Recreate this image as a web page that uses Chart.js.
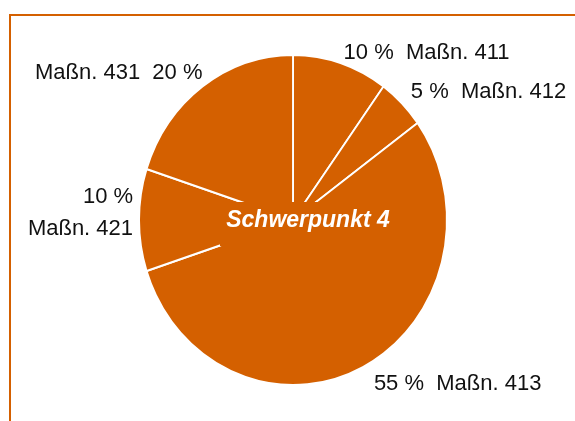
<!DOCTYPE html>
<html>
<head>
<meta charset="utf-8">
<script src="https://cdn.jsdelivr.net/npm/chart.js@4/dist/chart.umd.min.js"></script>
<style>
  html, body { margin: 0; padding: 0; background: #fff; }
  #wrap { position: relative; width: 575px; height: 421px; }
  #frame { position: absolute; left: 9px; top: 14px; right: 0; bottom: 0;
           border-top: 2px solid #d46000; border-left: 2px solid #d46000; }
  canvas { position: absolute; left: 0; top: 0; }
</style>
</head>
<body>
<div id="wrap">
  <div id="frame"></div>
  <canvas id="myChart" width="575" height="421"></canvas>
</div>
<script>
// slices, clockwise from 12 o'clock
const measures = ['Maßn. 411', 'Maßn. 412', 'Maßn. 413', 'Maßn. 421', 'Maßn. 431'];
const shares = [10, 5, 55, 10, 20];
const centerTitle = 'Schwerpunkt 4';

const orange = '#d46000';
const squeezeX = 0.933; // the original pie is a slightly narrow ellipse

// how each outside label sits against the middle of its slice edge
const labelStyle = [
  { align: 'left',  dx: 3,  dy: -4,  lines: (p, m) => [p + ' %  ' + m] },
  { align: 'left',  dx: 9,  dy: -5,  lines: (p, m) => [p + ' %  ' + m] },
  { align: 'left',  dx: 11, dy: 23,  lines: (p, m) => [p + ' %  ' + m] },
  { align: 'right', dx: -6, dy: -17, lines: (p, m) => [p + ' %', m] },
  { align: 'right', dx: 0,  dy: -8,  lines: (p, m) => [m + '  ' + p + ' %'] },
];

const pieLabels = {
  id: 'pieLabels',
  beforeDatasetsDraw(chart) {
    const ctx = chart.ctx;
    const cx = chart.getDatasetMeta(0).data[0].x;
    ctx.save();
    ctx.translate(cx, 0);
    ctx.scale(squeezeX, 1);
    ctx.translate(-cx, 0);
  },
  afterDatasetsDraw(chart) {
    const ctx = chart.ctx;
    ctx.restore();
    const arcs = chart.getDatasetMeta(0).data;
    const cx = arcs[0].x, cy = arcs[0].y;

    // patch behind the centre title hides the slice borders there
    ctx.save();
    ctx.fillStyle = orange;
    ctx.fillRect(cx - 73, cy - 18, 183, 44);
    ctx.fillStyle = '#fff';
    ctx.font = 'italic bold 23px "Liberation Sans", Arial, sans-serif';
    ctx.textAlign = 'center';
    ctx.textBaseline = 'middle';
    ctx.fillText(centerTitle, cx + 15, cy + 1);

    ctx.fillStyle = '#111';
    ctx.font = '22px "Liberation Sans", Arial, sans-serif';
    ctx.textBaseline = 'alphabetic';
    arcs.forEach((arc, i) => {
      const mid = (arc.startAngle + arc.endAngle) / 2;
      const r = arc.outerRadius;
      const st = labelStyle[i];
      const x = arc.x + Math.cos(mid) * r * squeezeX + st.dx;
      const y = arc.y + Math.sin(mid) * r + st.dy;
      ctx.textAlign = st.align;
      st.lines(shares[i], measures[i]).forEach((t, k) => {
        ctx.fillText(t, x, y + k * 32);
      });
    });
    ctx.restore();
  }
};

const config = {
  type: 'pie',
  data: {
    labels: measures,
    datasets: [{
      data: shares,
      backgroundColor: orange,
      borderColor: '#fff',
      borderWidth: 2,
    }],
  },
  options: {
    responsive: false,
    animation: false,
    layout: { padding: { top: 54, bottom: 35, left: 100, right: 89 } },
    plugins: {
      legend: { display: false },
      tooltip: { enabled: false },
    },
  },
  plugins: [pieLabels],
};

const myChart = new Chart(document.getElementById('myChart'), config);
</script>
</body>
</html>
